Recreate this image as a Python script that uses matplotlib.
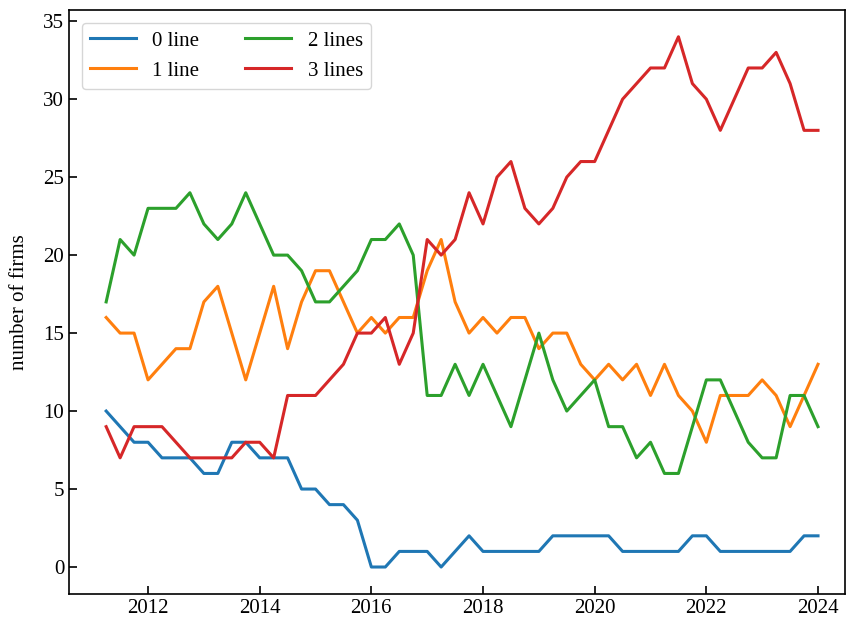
import matplotlib
matplotlib.use('Agg')
import matplotlib.pyplot as plt
import numpy as np

# quarterly observations, 2011 Q2 .. 2024 Q1
quarters = 2011.25 + 0.25 * np.arange(52)

zero_line = [10, 9, 8, 8, 7, 7, 7, 6, 6, 8, 8, 7, 7, 7, 5, 5, 4, 4, 3, 0,
             0, 1, 1, 1, 0, 1, 2, 1, 1, 1, 1, 1, 2, 2, 2, 2, 2, 1, 1, 1,
             1, 1, 2, 2, 1, 1, 1, 1, 1, 1, 2, 2]
one_line = [16, 15, 15, 12, 13, 14, 14, 17, 18, 15, 12, 15, 18, 14, 17, 19, 19, 17, 15, 16,
            15, 16, 16, 19, 21, 17, 15, 16, 15, 16, 16, 14, 15, 15, 13, 12, 13, 12, 13, 11,
            13, 11, 10, 8, 11, 11, 11, 12, 11, 9, 11, 13]
two_lines = [17, 21, 20, 23, 23, 23, 24, 22, 21, 22, 24, 22, 20, 20, 19, 17, 17, 18, 19, 21,
             21, 22, 20, 11, 11, 13, 11, 13, 11, 9, 12, 15, 12, 10, 11, 12, 9, 9, 7, 8,
             6, 6, 9, 12, 12, 10, 8, 7, 7, 11, 11, 9]
three_lines = [9, 7, 9, 9, 9, 8, 7, 7, 7, 7, 8, 8, 7, 11, 11, 11, 12, 13, 15, 15,
               16, 13, 15, 21, 20, 21, 24, 22, 25, 26, 23, 22, 23, 25, 26, 26, 28, 30, 31, 32,
               32, 34, 31, 30, 28, 30, 32, 32, 33, 31, 28, 28]

plt.rcParams['font.family'] = ['Liberation Serif', 'DejaVu Serif']
plt.rcParams['font.size'] = 15

fig = plt.figure(figsize=(8.46, 6.19), dpi=100)
ax = fig.add_axes([0.0816, 0.0404, 0.917, 0.943])

ax.plot(quarters, zero_line, color='#1f77b4', linewidth=2.2, label='0 line')
ax.plot(quarters, one_line, color='#ff7f0e', linewidth=2.2, label='1 line')
ax.plot(quarters, two_lines, color='#2ca02c', linewidth=2.2, label='2 lines')
ax.plot(quarters, three_lines, color='#d62728', linewidth=2.2, label='3 lines')

ax.set_xlim(2010.585, 2024.48)
ax.set_ylim(-1.73, 35.7)
ax.set_xticks([2012, 2014, 2016, 2018, 2020, 2022, 2024])
ax.set_yticks(range(0, 36, 5))
ax.tick_params(direction='in', length=6, width=1.2)
for s in ax.spines.values():
    s.set_linewidth(1.2)
ax.set_ylabel('number of firms', labelpad=10)

ax.legend(loc='upper left', ncol=2, columnspacing=2.2, handlelength=2.2,
          borderaxespad=0.6)

fig.savefig('out.png', dpi=100)
